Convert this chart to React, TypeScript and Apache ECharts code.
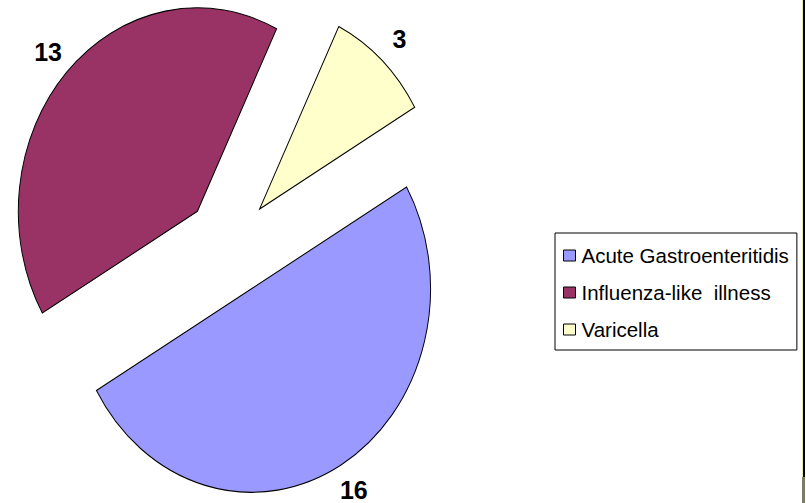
import React, { useEffect, useRef } from "react";
import * as echarts from "echarts";

const categories = ["Acute Gastroenteritidis", "Influenza-like  illness", "Varicella"];
const values = [16, 13, 3];
const colors = ["#9999FF", "#993366", "#FFFFCC"];

// geometry of the (elliptical, exploded) pie
const START_ANGLE = 60; // degrees, clockwise from 12 o'clock
const CX = 229.5;
const CY = 245.5;
const R = 203.5;
const SCALE_X = 0.88;
const EXPLODE = 50;
const LABEL_R = 232.5;
const FONT = "'Liberation Sans', Arial, sans-serif";

export default function App() {
  const ref = useRef<HTMLDivElement>(null);
  useEffect(() => {
    if (!ref.current) return;
    const chart = echarts.init(ref.current, undefined, { renderer: "svg" });
    const total = values.reduce((a, b) => a + b, 0);
    const deg = Math.PI / 180;

    const series = categories.map((name, i) => ({
      type: "custom",
      name,
      coordinateSystem: "none",
      data: [values[i]],
      itemStyle: { color: colors[i], borderColor: "#000", borderWidth: 1 },
      renderItem: (params: any, api: any) => {
        const before = values.slice(0, i).reduce((a, b) => a + b, 0);
        const v = api.value(0);
        const a0 = START_ANGLE + (before / total) * 360;
        const a1 = a0 + (v / total) * 360;
        const mid = (a0 + a1) / 2;
        const dx = Math.sin(mid * deg);
        const dy = -Math.cos(mid * deg);
        const ox = EXPLODE * dx;
        const oy = EXPLODE * dy;
        const lx = CX + SCALE_X * (ox + LABEL_R * dx);
        const ly = CY + oy + LABEL_R * dy;
        return {
          type: "group",
          children: [
            {
              type: "group",
              x: CX,
              y: CY,
              scaleX: SCALE_X,
              scaleY: 1,
              children: [
                {
                  type: "sector",
                  shape: {
                    cx: ox,
                    cy: oy,
                    r0: 0,
                    r: R,
                    startAngle: (a0 - 90) * deg,
                    endAngle: (a1 - 90) * deg,
                    clockwise: true,
                  },
                  style: { fill: colors[i], stroke: "#000", lineWidth: 1.1 },
                },
              ],
            },
            {
              type: "text",
              x: lx,
              y: ly,
              style: {
                text: String(v),
                fill: "#000",
                font: `bold 25px ${FONT}`,
                lineHeight: 20,
                align: "center",
                verticalAlign: "middle",
              },
            },
          ],
        };
      },
    }));

    chart.setOption({
      animation: false,
      backgroundColor: "#ffffff",
      legend: {
        data: categories,
        orient: "vertical",
        left: 555,
        top: 233,
        padding: [12, 8, 10, 8],
        itemGap: 16,
        itemWidth: 12,
        itemHeight: 11,
        icon: "rect",
        borderColor: "#000",
        borderWidth: 1,
        backgroundColor: "#fff",
        selectedMode: false,
        itemStyle: { borderColor: "#000", borderWidth: 1 },
        textStyle: { fontSize: 20.5, color: "#000", fontFamily: FONT, padding: [0, 0, 0, 1] },
      },
      graphic: [
        { type: "rect", shape: { x: 802, y: 0, width: 1, height: 503 }, style: { fill: "#e9e9a8" }, silent: true },
        { type: "rect", shape: { x: 803, y: 0, width: 2, height: 503 }, style: { fill: "#000" }, silent: true },
        { type: "rect", shape: { x: 802, y: 477, width: 3, height: 26 }, style: { fill: "#7c7c6a" }, silent: true },
      ],
      series,
    });
    return () => chart.dispose();
  }, []);
  return (
    <div
      ref={ref}
      style={{ position: "absolute", left: 0, top: 0, width: 806, height: 503 }}
    />
  );
}
